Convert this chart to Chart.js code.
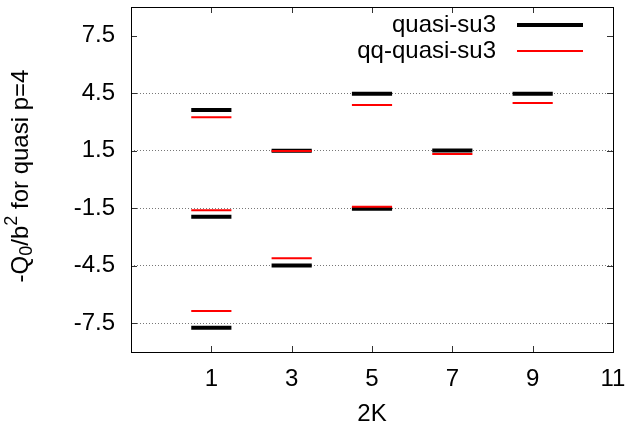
<!DOCTYPE html>
<html>
<head>
<meta charset="utf-8">
<script src="https://cdn.jsdelivr.net/npm/chart.js@4/dist/chart.umd.min.js"></script>
<style>
  body { margin: 0; background: #fff; }
  canvas { display: block; }
</style>
</head>
<body>
<canvas id="chart-q0" width="629" height="427"></canvas>
<script>

// values, one entry per level
var twoK = [1, 1, 1, 3, 3, 5, 5, 7, 9];
var quasiSu3 = [3.63, -1.94, -7.74, 1.50, -4.49, 4.48, -1.52, 1.51, 4.48];
var qqQuasiSu3 = [3.25, -1.60, -6.86, 1.49, -4.11, 3.89, -1.42, 1.33, 3.99];

var xTicks = [1, 3, 5, 7, 9, 11];
var yTicks = [-7.5, -4.5, -1.5, 1.5, 4.5, 7.5];

var FONT = '"Liberation Sans", Arial, sans-serif';
var FSIZE = 24;

// each level is a short horizontal segment centred on its 2K value
function segments(values) {
    var pts = [];
    values.forEach(function (v, i) {
        pts.push({ x: twoK[i] - 0.5, y: v });
        pts.push({ x: twoK[i] + 0.5, y: v });
        pts.push({ x: twoK[i] + 0.5, y: null });
    });
    return pts;
}

// no extra room for edge labels, the plot box is set by hand
function noPadding(scale) {
    scale.paddingTop = 0;
    scale.paddingBottom = 0;
    scale.paddingLeft = 0;
    scale.paddingRight = 0;
}

var decorations = {
    id: 'decorations',
    afterDraw: function (chart) {
        var ctx = chart.ctx;
        var a = chart.chartArea;
        var xs = chart.scales.x, ys = chart.scales.y;
        ctx.save();

        // inward tick marks on all four sides
        ctx.strokeStyle = '#333';
        ctx.lineWidth = 1;
        ctx.beginPath();
        xTicks.forEach(function (t) {
            var px = Math.round(xs.getPixelForValue(t)) + 0.5;
            ctx.moveTo(px, a.bottom); ctx.lineTo(px, a.bottom - 6);
            ctx.moveTo(px, a.top); ctx.lineTo(px, a.top + 6);
        });
        yTicks.forEach(function (t) {
            var py = Math.round(ys.getPixelForValue(t)) + 0.5;
            ctx.moveTo(a.left, py); ctx.lineTo(a.left + 6, py);
            ctx.moveTo(a.right, py); ctx.lineTo(a.right - 6, py);
        });
        ctx.stroke();

        // frame
        ctx.strokeStyle = '#000';
        ctx.strokeRect(Math.round(a.left) + 0.5, Math.round(a.top) + 0.5,
            Math.round(a.right - a.left), Math.round(a.bottom - a.top));

        // legend
        ctx.font = FSIZE + 'px ' + FONT;
        ctx.fillStyle = '#000';
        ctx.textAlign = 'right';
        ctx.textBaseline = 'middle';
        ctx.fillText('quasi-su3', 496, 25);
        ctx.fillText('qq-quasi-su3', 496, 51);
        ctx.lineCap = 'butt';
        ctx.lineWidth = 4;
        ctx.strokeStyle = '#000';
        ctx.beginPath(); ctx.moveTo(517, 25); ctx.lineTo(583, 25); ctx.stroke();
        ctx.lineWidth = 2;
        ctx.strokeStyle = '#ff0000';
        ctx.beginPath(); ctx.moveTo(517, 51); ctx.lineTo(583, 51); ctx.stroke();

        // x title
        ctx.textAlign = 'center';
        ctx.fillText('2K', (a.left + a.right) / 2, 414);

        // y title with sub/superscript
        var parts = [
            { t: '-Q', s: 1, dy: 0 },
            { t: '0', s: 0.75, dy: 6 },
            { t: '/b', s: 1, dy: 0 },
            { t: '2', s: 0.75, dy: -9 },
            { t: ' for quasi p=4', s: 1, dy: 0 }
        ];
        var total = 0;
        parts.forEach(function (p) {
            ctx.font = Math.round(FSIZE * p.s) + 'px ' + FONT;
            p.w = ctx.measureText(p.t).width;
            total += p.w;
        });
        ctx.translate(21, 176);
        ctx.rotate(-Math.PI / 2);
        ctx.textAlign = 'left';
        var u = -total / 2;
        parts.forEach(function (p) {
            ctx.font = Math.round(FSIZE * p.s) + 'px ' + FONT;
            ctx.fillText(p.t, u, p.dy);
            u += p.w;
        });
        ctx.restore();
    }
};

new Chart('chart-q0', {
    type: 'scatter',
    data: {
        datasets: [{
            label: 'qq-quasi-su3',
            data: segments(qqQuasiSu3),
            showLine: true,
            borderColor: '#ff0000',
            borderWidth: 2,
            pointRadius: 0,
            borderCapStyle: 'butt',
            spanGaps: false
        }, {
            label: 'quasi-su3',
            data: segments(quasiSu3),
            showLine: true,
            borderColor: '#000000',
            borderWidth: 4,
            pointRadius: 0,
            borderCapStyle: 'butt',
            spanGaps: false
        }]
    },
    options: {
        responsive: false,
        animation: false,
        devicePixelRatio: 1,
        layout: { padding: { top: 7, right: 16, left: 0, bottom: 0 } },
        plugins: {
            legend: { display: false },
            tooltip: { enabled: false }
        },
        scales: {
            x: {
                type: 'linear',
                min: -1,
                max: 11,
                afterBuildTicks: function (scale) {
                    scale.ticks = xTicks.map(function (v) { return { value: v }; });
                },
                afterFit: function (scale) {
                    scale.height = 75;
                    noPadding(scale);
                },
                grid: { display: false, drawTicks: false },
                border: { display: false },
                ticks: {
                    color: '#000',
                    padding: 13,
                    maxRotation: 0,
                    font: { family: FONT, size: FSIZE }
                }
            },
            y: {
                type: 'linear',
                min: -9,
                max: 9,
                afterBuildTicks: function (scale) {
                    scale.ticks = yTicks.map(function (v) { return { value: v }; });
                },
                afterFit: function (scale) {
                    scale.width = 131;
                    noPadding(scale);
                },
                grid: {
                    drawTicks: false,
                    lineWidth: 1,
                    color: function (c) {
                        return c.tick && c.tick.value === 7.5 ? 'rgba(0,0,0,0)' : '#777';
                    }
                },
                border: { display: false, dash: [1, 2] },
                ticks: {
                    color: '#000',
                    padding: 16,
                    font: { family: FONT, size: FSIZE }
                }
            }
        }
    },
    plugins: [decorations]
});
</script>
</body>
</html>
